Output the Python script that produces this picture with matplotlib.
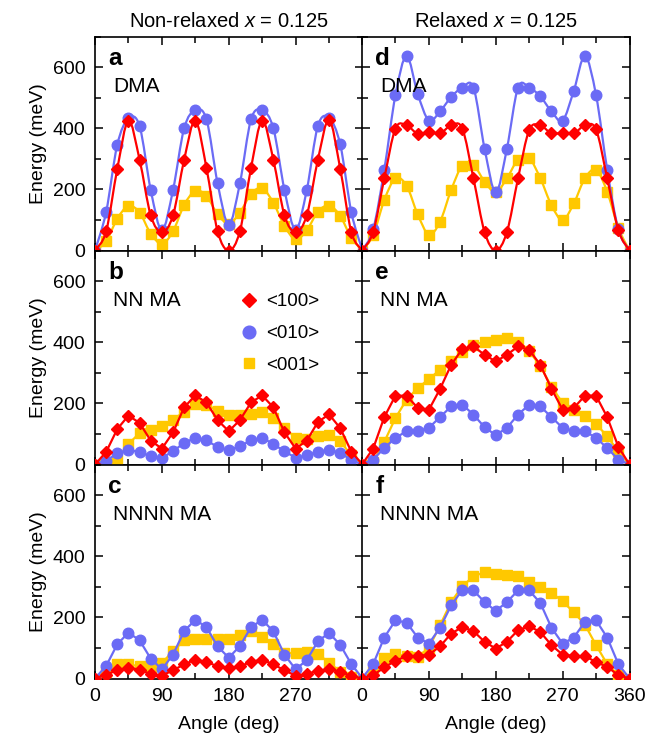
import numpy as np
import matplotlib
matplotlib.use("Agg")
import matplotlib.pyplot as plt
from matplotlib.path import Path
from matplotlib.patches import PathPatch
from matplotlib.lines import Line2D

plt.rcParams['font.family'] = ['Liberation Sans', 'DejaVu Sans']
plt.rcParams['mathtext.fontset'] = 'custom'
plt.rcParams['mathtext.rm'] = 'Liberation Sans'
plt.rcParams['mathtext.it'] = 'Liberation Sans:italic'

# angles (deg), one point every 15 deg
angles = [0, 15, 30, 45, 60, 75, 90, 105, 120, 135, 150, 165, 180,
          195, 210, 225, 240, 255, 270, 285, 300, 315, 330, 345, 360]

# energies in meV: <100>, <010>, <001>
a_100 = [0, 63, 267, 425, 297, 115, 60, 115, 297, 425, 270, 63, 0,
         63, 270, 425, 297, 115, 60, 115, 297, 428, 268, 60, 0]
a_010 = [0, 126, 346, 432, 407, 198, 66, 198, 400, 459, 429, 220, 85,
         220, 429, 459, 400, 198, 68, 198, 408, 434, 347, 125, 0]
a_001 = [0, 30, 104, 146, 124, 55, 22, 63, 149, 195, 179, 118, 88,
         124, 185, 204, 156, 80, 36, 66, 127, 147, 113, 41, 0]

b_100 = [0, 41, 116, 160, 136, 78, 52, 105, 187, 226, 203, 145, 109,
         145, 203, 226, 187, 105, 52, 78, 139, 164, 119, 42, 0]
b_010 = [0, 13, 36, 47, 41, 27, 22, 43, 71, 87, 79, 57, 47,
         60, 79, 87, 67, 43, 22, 30, 42, 47, 39, 14, 0]
b_001 = [0, 3, 16, 67, 103, 114, 125, 147, 172, 198, 196, 176, 161,
         163, 165, 171, 152, 120, 87, 85, 94, 98, 76, 30, 0]

c_100 = [0, 13, 27, 35, 29, 14, 9, 27, 46, 62, 54, 40, 33,
         40, 54, 62, 46, 27, 9, 14, 26, 30, 22, 8, 0]
c_010 = [0, 41, 112, 150, 125, 65, 30, 78, 155, 192, 168, 105, 68,
         106, 168, 192, 154, 78, 30, 60, 122, 149, 110, 47, 0]
c_001 = [0, 20, 49, 46, 40, 36, 51, 89, 125, 130, 128, 128, 128,
         143, 155, 136, 112, 85, 82, 86, 80, 52, 22, 5, 0]

d_100 = [0, 60, 236, 399, 409, 382, 388, 383, 409, 399, 236, 60, 0,
         60, 236, 394, 409, 383, 385, 383, 409, 396, 236, 66, 0]
d_010 = [0, 69, 264, 508, 636, 512, 425, 455, 502, 533, 533, 333, 190,
         333, 533, 533, 504, 455, 425, 522, 636, 508, 264, 69, 0]
d_001 = [0, 50, 165, 236, 212, 118, 52, 94, 198, 278, 280, 225, 190,
         236, 297, 302, 236, 148, 99, 154, 236, 264, 192, 74, 0]

e_100 = [0, 52, 155, 225, 225, 185, 179, 247, 326, 378, 386, 359, 337,
         359, 386, 375, 326, 248, 179, 185, 225, 225, 155, 58, 0]
e_010 = [0, 16, 54, 87, 109, 109, 120, 155, 190, 196, 163, 122, 96,
         120, 163, 196, 190, 155, 120, 109, 109, 87, 54, 16, 0]
e_001 = [0, 8, 74, 152, 212, 250, 279, 310, 337, 367, 391, 402, 408,
         415, 402, 372, 321, 255, 201, 177, 158, 133, 92, 43, 0]

f_100 = [0, 11, 36, 58, 73, 73, 78, 105, 147, 168, 155, 120, 98,
         120, 158, 171, 152, 109, 78, 73, 73, 54, 38, 11, 0]
f_010 = [0, 47, 134, 190, 183, 134, 114, 166, 239, 290, 288, 250, 221,
         250, 288, 288, 247, 166, 114, 134, 185, 190, 134, 47, 0]
f_001 = [0, 25, 67, 79, 74, 71, 100, 174, 250, 302, 334, 348, 343,
         339, 334, 315, 299, 281, 252, 217, 176, 109, 47, 11, 0]

panels = [
    # letter, name, data, smooth line, row, col
    ("a", "DMA", (a_100, a_010, a_001), True, 0, 0),
    ("b", "NN MA", (b_100, b_010, b_001), False, 1, 0),
    ("c", "NNNN MA", (c_100, c_010, c_001), False, 2, 0),
    ("d", "DMA", (d_100, d_010, d_001), True, 0, 1),
    ("e", "NN MA", (e_100, e_010, e_001), False, 1, 1),
    ("f", "NNNN MA", (f_100, f_010, f_001), False, 2, 1),
]

RED = "#FF0000"
BLUE = "#6B6BF5"
YELLOW = "#FFC800"
colors = (RED, BLUE, YELLOW)
markers = ("D", "o", "s")
msizes = (5.8, 7.6, 6.5)
labels = ("<100>", "<010>", "<001>")


def smooth_path(x, y):
    # Catmull-Rom curve through the points, as cubic Bezier segments
    n = len(x)
    verts = [(x[0], y[0])]
    codes = [Path.MOVETO]
    for i in range(n - 1):
        i0 = max(i - 1, 0)
        i3 = min(i + 2, n - 1)
        c1 = (x[i] + (x[i + 1] - x[i0]) / 6.0, y[i] + (y[i + 1] - y[i0]) / 6.0)
        c2 = (x[i + 1] - (x[i3] - x[i]) / 6.0, y[i + 1] - (y[i3] - y[i]) / 6.0)
        verts += [c1, c2, (x[i + 1], y[i + 1])]
        codes += [Path.CURVE4] * 3
    return Path(verts, codes)


fig = plt.figure(figsize=(6.51, 7.41), dpi=100)
W, H = 651.0, 741.0
lefts = [95 / W, 362 / W]
width = 267.5 / W
tops = [36.5, 250.5, 464.5]
height = 214 / H

axes = {}
for letter, name, data, smooth, row, col in panels:
    ax = fig.add_axes([lefts[col], 1 - (tops[row] + 214) / H, width, height])
    axes[letter] = ax
    # draw <001> first, then <010>, then <100> on top
    for k in (2, 1, 0):
        y = data[k]
        if smooth:
            ax.add_patch(PathPatch(smooth_path(angles, y), facecolor="none",
                                   edgecolor=colors[k], lw=1.6, zorder=3))
            ax.plot(angles, y, ls="none", marker=markers[k], ms=msizes[k],
                    color=colors[k], mec=colors[k], zorder=3)
        else:
            ax.plot(angles, y, ls="-", lw=1.6, marker=markers[k], ms=msizes[k],
                    color=colors[k], mec=colors[k], zorder=3)

    ax.set_xlim(0, 360)
    ax.set_ylim(0, 700)
    ax.set_xticks([0, 90, 180, 270, 360])
    ax.set_xticks([45, 135, 225, 315], minor=True)
    ax.set_yticks([0, 200, 400, 600])
    ax.set_yticks([100, 300, 500, 700], minor=True)
    ax.tick_params(which="both", direction="in", top=True, right=True,
                   labelsize=14, width=1.1)
    ax.tick_params(which="major", length=6, pad=7)
    ax.tick_params(which="minor", length=4)
    for s in ax.spines.values():
        s.set_linewidth(1.2)

    if col == 0:
        ax.set_ylabel("Energy (meV)", fontsize=14, labelpad=4)
    else:
        ax.tick_params(labelleft=False)
    if row == 2:
        ax.set_xlabel("Angle (deg)", fontsize=14, labelpad=8)
        if col == 0:
            ax.set_xticklabels(["0", "90", "180", "270", ""])
    else:
        ax.tick_params(labelbottom=False)

    ax.text(0.05, 0.865, letter, transform=ax.transAxes, fontsize=17.5,
            fontweight="bold", va="baseline", ha="left")
    ax.text(0.068, 0.742, name, transform=ax.transAxes, fontsize=15,
            va="baseline", ha="left")

axes["a"].set_title("Non-relaxed $x$ = 0.125", fontsize=14.5, pad=7)
axes["d"].set_title("Relaxed $x$ = 0.125", fontsize=14.5, pad=7)

handles = [Line2D([], [], ls="none", marker=markers[k], ms=msizes[k] * 1.2,
                  color=colors[k], mec=colors[k]) for k in range(3)]
axes["b"].legend(handles, labels, loc="upper left", bbox_to_anchor=(0.54, 0.80),
                 frameon=False, fontsize=13.5, handlelength=1.0,
                 handletextpad=0.4, labelspacing=0.78, borderpad=0,
                 borderaxespad=0)

fig.savefig("out.png", dpi=100)
